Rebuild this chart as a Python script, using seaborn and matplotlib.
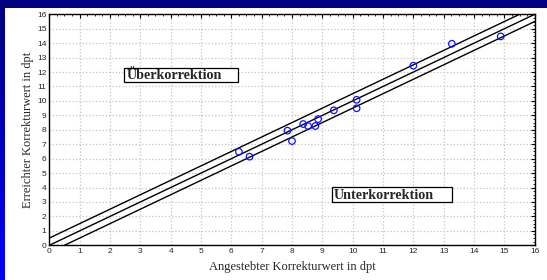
import numpy as np
import pandas as pd
import matplotlib
matplotlib.use('Agg')
import matplotlib.pyplot as plt
import seaborn as sns
from matplotlib.ticker import MultipleLocator

# Messwerte (angestrebt / erreicht)
angestrebt = [6.25, 6.6, 7.85, 8.0, 8.37, 8.53, 8.77, 8.86, 9.38, 10.13, 10.13, 12.0, 13.27, 14.88]
erreicht = [6.48, 6.14, 7.94, 7.22, 8.40, 8.26, 8.26, 8.74, 9.35, 10.08, 9.49, 12.44, 13.96, 14.47]

# Referenzgeraden y = x + offset
linie_x = [0, 16]
offsets = [0.5, 0.0, -0.5]

df = pd.DataFrame({'soll': angestrebt, 'ist': erreicht})
linien = pd.DataFrame([
    {'x': x, 'y': x + off, 'linie': str(off)} for off in offsets for x in linie_x
])

sns.set_style('white')
plt.rcParams['font.family'] = ['Liberation Serif', 'DejaVu Serif']

fig = plt.figure(figsize=(5.47, 2.80), dpi=100)
fig.patch.set_facecolor('white')

# blauer Folienhintergrund (Rand oben / links)
bg_top = fig.add_axes([0, 1 - 8 / 280, 1, 8 / 280])
bg_top.set_axis_off()
bg_top.add_patch(plt.Rectangle((0, 0), 1, 1, color='#000080', transform=bg_top.transAxes))
bg_left = fig.add_axes([0, 0, 5 / 547, 1])
grad = np.linspace(0, 1, 256).reshape(-1, 1)
cmap = matplotlib.colors.LinearSegmentedColormap.from_list('bg', ['#0000ff', '#000080'])
bg_left.imshow(grad, aspect='auto', cmap=cmap, origin='lower', extent=[0, 1, 0, 1])
bg_left.set_axis_off()

ax = fig.add_axes([49.3 / 547, 1 - 245.3 / 280, (534.7 - 49.3) / 547, (245.3 - 14.3) / 280])
ax.set_facecolor('white')

sns.lineplot(data=linien, x='x', y='y', units='linie', estimator=None,
             color='black', linewidth=1.0, ax=ax, legend=False)
sns.scatterplot(data=df, x='soll', y='ist', ax=ax, marker='o', s=22,
                facecolor='none', edgecolor='#1010ff', linewidth=0.9, zorder=5)

ax.set_xlim(0, 16)
ax.set_ylim(0, 16)
ax.xaxis.set_major_locator(MultipleLocator(1))
ax.yaxis.set_major_locator(MultipleLocator(1))
ax.xaxis.set_minor_locator(MultipleLocator(0.25))
ax.yaxis.set_minor_locator(MultipleLocator(0.25))
ax.grid(True, which='major', color='#c4c4c4', linestyle=':', linewidth=0.9)
ax.tick_params(which='both', direction='in', top=True, right=True, color='black',
               labelsize=6, pad=2)
ax.tick_params(which='major', length=3, width=0.8)
ax.tick_params(which='minor', length=1.5, width=0.6)
for lbl in ax.get_xticklabels() + ax.get_yticklabels():
    lbl.set_family('Liberation Sans')
for sp in ax.spines.values():
    sp.set_color('black')
    sp.set_linewidth(1.0)

ax.set_xlabel('Angestebter Korrekturwert in dpt', fontsize=9, labelpad=4)
ax.set_ylabel('Erreichter Korrekturwert in dpt', fontsize=9, labelpad=2)

# Beschriftungskästen
for (x0, y0, w, h), txt in [((2.46, 11.31, 3.76, 0.97), 'Überkorrektion'),
                            ((9.31, 2.98, 3.95, 1.08), 'Unterkorrektion')]:
    ax.add_patch(plt.Rectangle((x0, y0), w, h, facecolor='white', edgecolor='black',
                               linewidth=0.9, zorder=6))
    ax.text(x0 + 0.08, y0 + 0.2, txt, fontsize=10.2, fontweight='bold',
            va='baseline', ha='left', zorder=7)

fig.savefig('out.png', dpi=100, facecolor=fig.get_facecolor())
